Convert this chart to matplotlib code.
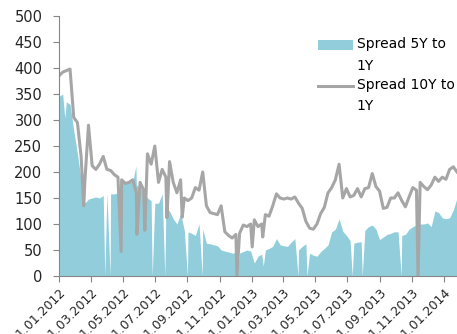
import numpy as np
import pandas as pd
import matplotlib
matplotlib.use('Agg')
import matplotlib.pyplot as plt

# weekly readings from 11.01.2012
weeks = pd.date_range('2012-01-11', periods=109, freq='7D')

spread_5y = [345, 350, 335, 330, 280, 235, 185, 140, 148, 150,
             152, 150, 155, 160, 158, 158, 160, 183, 180, 182,
             180, 175, 170, 160, 150, 145, 140, 140, 158, 130,
             125, 110, 100, 120, 88, 85, 82, 78, 100, 90,
             63, 62, 60, 58, 50, 48, 46, 44, 45, 44,
             47, 50, 48, 25, 38, 42, 50, 53, 57, 72,
             60, 58, 57, 65, 72, 50, 57, 62, 44, 40,
             38, 47, 53, 60, 85, 90, 110, 86, 78, 68,
             63, 65, 66, 88, 95, 98, 90, 70, 75, 80,
             82, 85, 85, 78, 80, 90, 95, 98, 100, 100,
             102, 95, 125, 122, 112, 110, 112, 127, 150]

spread_10y = [385, 392, 395, 398, 305, 295, 230, 180, 290, 212,
              205, 215, 230, 205, 203, 195, 190, 185, 178, 180,
              185, 160, 180, 165, 235, 215, 250, 180, 205, 190,
              220, 180, 160, 185, 150, 145, 150, 170, 165, 200,
              135, 122, 120, 118, 135, 85, 78, 73, 80, 82,
              98, 95, 100, 108, 95, 100, 118, 115, 135, 158,
              150, 148, 150, 148, 152, 140, 130, 105, 92, 90,
              100, 120, 132, 160, 170, 185, 215, 150, 168, 152,
              155, 168, 152, 168, 170, 197, 172, 163, 130, 132,
              150, 150, 160, 145, 133, 152, 170, 165, 180, 172,
              166, 175, 190, 182, 190, 186, 205, 210, 200]

# single-day spikes / drops
dips_5y_dates = ['2012-01-22', '2012-04-07', '2012-04-17', '2012-06-05', '2012-07-06',
                 '2012-07-30', '2012-09-11', '2012-10-09', '2012-12-14', '2013-02-02',
                 '2013-04-09', '2013-04-26', '2013-07-21', '2013-08-09', '2013-10-22']
dips_5y_values = [304, 0, 0, 212, 0, 0, 0, 0, 0, 19, 0, 0, 0, 0, 0]

dips_10y_dates = ['2012-02-27', '2012-05-08', '2012-06-07', '2012-06-22', '2012-08-03',
                  '2012-09-01', '2012-12-14', '2013-01-12', '2013-02-01', '2013-11-23']
dips_10y_values = [135, 47, 80, 88, 112, 113, 0, 56, 75, 0]

tick_labels = ['11.01.2012', '11.03.2012', '11.05.2012', '11.07.2012', '11.09.2012',
               '11.11.2012', '11.01.2013', '11.03.2013', '11.05.2013', '11.07.2013',
               '11.09.2013', '11.11.2013', '11.01.2014']


def build(vals, dip_dates, dip_vals):
    s = pd.Series(vals, index=weeks)
    d = pd.Series(dip_vals, index=pd.to_datetime(dip_dates))
    return pd.concat([s, d]).sort_index()


s5 = build(spread_5y, dips_5y_dates, dips_5y_values)
s10 = build(spread_10y, dips_10y_dates, dips_10y_values)

fig = plt.figure(figsize=(4.57, 3.34), dpi=100)
ax = fig.add_axes([59/457, 58/334, 1 - 59/457, 260/334])

ax.fill_between(s5.index, 0, s5.values, color='#92CDDC', lw=0, label='Spread 5Y to\n1Y')
ax.plot(s10.index, s10.values, color='#A6A6A6', lw=2.2, label='Spread 10Y to\n1Y')

ax.set_ylim(0, 500)
ax.set_yticks(range(0, 501, 50))
ax.set_xlim(pd.Timestamp('2012-01-11'), pd.Timestamp('2014-02-05'))
ticks = pd.to_datetime(tick_labels, format='%d.%m.%Y')
ax.set_xticks(ticks)
ax.set_xticklabels(tick_labels, rotation=45, ha='right', rotation_mode='anchor')

for sp in ['top', 'right']:
    ax.spines[sp].set_visible(False)
for sp in ['left', 'bottom']:
    ax.spines[sp].set_color('#868686')
ax.tick_params(axis='y', length=4, pad=8, color='#868686', labelsize=10.5, labelcolor='#262626')
ax.tick_params(axis='x', length=4, pad=3, color='#868686', labelsize=9, labelcolor='#262626')

leg = ax.legend(loc='upper left', bbox_to_anchor=(318/457, 1 - 37/334),
                bbox_transform=fig.transFigure, frameon=False, fontsize=10,
                borderpad=0, borderaxespad=0, handlelength=2.5, handletextpad=0.3,
                labelspacing=0.35)
for t in leg.get_texts():
    t.set_linespacing(1.7)

# put the legend keys next to the first line of each label
dy = 7.5
hs = leg.legend_handles
hs[0].set_y(hs[0].get_y() + dy)
hs[1].set_ydata(np.asarray(hs[1].get_ydata()) + dy)

fig.savefig('out.png', dpi=100)
